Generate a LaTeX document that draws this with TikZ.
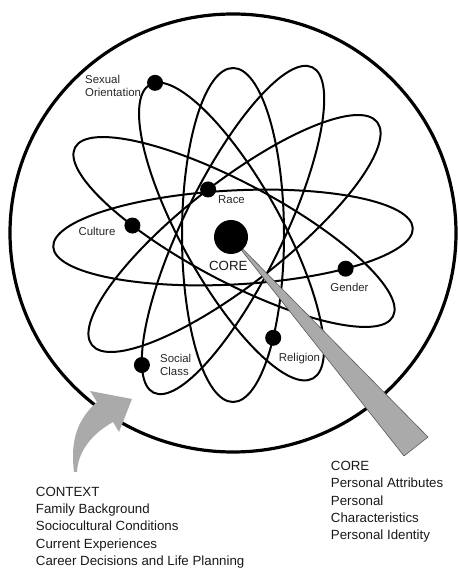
\documentclass[tikz,border=0pt]{standalone}
\usepackage{fontspec}
\setmainfont{Liberation Sans}
\usetikzlibrary{positioning}

\definecolor{pointergray}{RGB}{170,170,170}
\definecolor{edgegray}{RGB}{90,90,90}

\tikzset{
  orbit/.style={line width=2pt},
  electron/.style={circle,fill=black,inner sep=0pt,minimum size=16pt},
  nucleus/.style={circle,fill=black,inner sep=0pt,minimum size=34pt},
  lbl/.style={inner sep=0pt,text=black!85,font=\fontsize{11.4}{13}\selectfont},
  biglbl/.style={inner sep=0pt,text=black!90,font=\fontsize{13.3}{17.3}\selectfont},
}

\begin{document}
\begin{tikzpicture}[x=1pt,y=1pt]
    \useasboundingbox (0,0) rectangle (458,569);

    % context
    \draw[line width=3.2pt] (233,336) ellipse [x radius=223, y radius=219];

    % orbits, one electron on each
    \foreach \cx/\cy/\ang/\rx/\ry/\pos/\nm in {
        233/331.5/3/180/47/-52/gender,
        234/337/-28/180/49/239/culture,
        234.5/335.5/38/181/51/88/race,
        233/334/90/167/51/232/religion,
        231.5/337.5/119/168/50/-6/sexor,
        233/339/64/181/50/153/social}{
        \begin{scope}[shift={(\cx,\cy)},rotate=\ang]
            \draw[orbit] (0,0) ellipse [x radius=\rx, y radius=\ry];
            \node[electron] (\nm) at ({\rx*cos(\pos)},{\ry*sin(\pos)}) {};
        \end{scope}
    }

    % pointer from the core
    \coordinate (centre) at (231,332);
    \coordinate (tipA) at (428,132);
    \coordinate (tipB) at (404,113);
    \draw[fill=pointergray,draw=edgegray,line width=0.6pt,line join=round] (centre)--(tipA)--(tipB)--cycle;
    \node[nucleus] (core) at (centre) {};

    \node[lbl,align=left,anchor=north west] (sexorlbl) at (85,494) {Sexual\\Orientation};
    \node[lbl,anchor=base] (racelbl) at (231.5,365) {Race};
    \node[lbl,anchor=base] (culturelbl) at (97,333) {Culture};
    \node[lbl,anchor=base] (genderlbl) at (349.5,277.3) {Gender};
    \node[lbl,anchor=base] (religionlbl) at (299.5,207.3) {Religion};
    \node[lbl,align=left,anchor=north west] (sociallbl) at (160,215) {Social\\Class};
    \node[biglbl,anchor=base] (corelbl) at (228.3,298.3) {CORE};

    % curved arrow into the circle
    \fill[pointergray] (74,97) .. controls (70,130) and (78,150) .. (97,167)
        -- (90,178) -- (132,170) -- (119,137) -- (113,147)
        .. controls (92,135) and (78,118) .. (77,97) -- cycle;

    \node[biglbl,align=left,anchor=north west] (contextlist) at (35.7,82.3)
        {CONTEXT\\Family Background\\Sociocultural Conditions\\Current Experiences\\Career Decisions and Life Planning};
    \node[biglbl,align=left,anchor=north west] (corelist) at (330.7,108)
        {CORE\\Personal Attributes\\Personal\\Characteristics\\Personal Identity};
\end{tikzpicture}
\end{document}
